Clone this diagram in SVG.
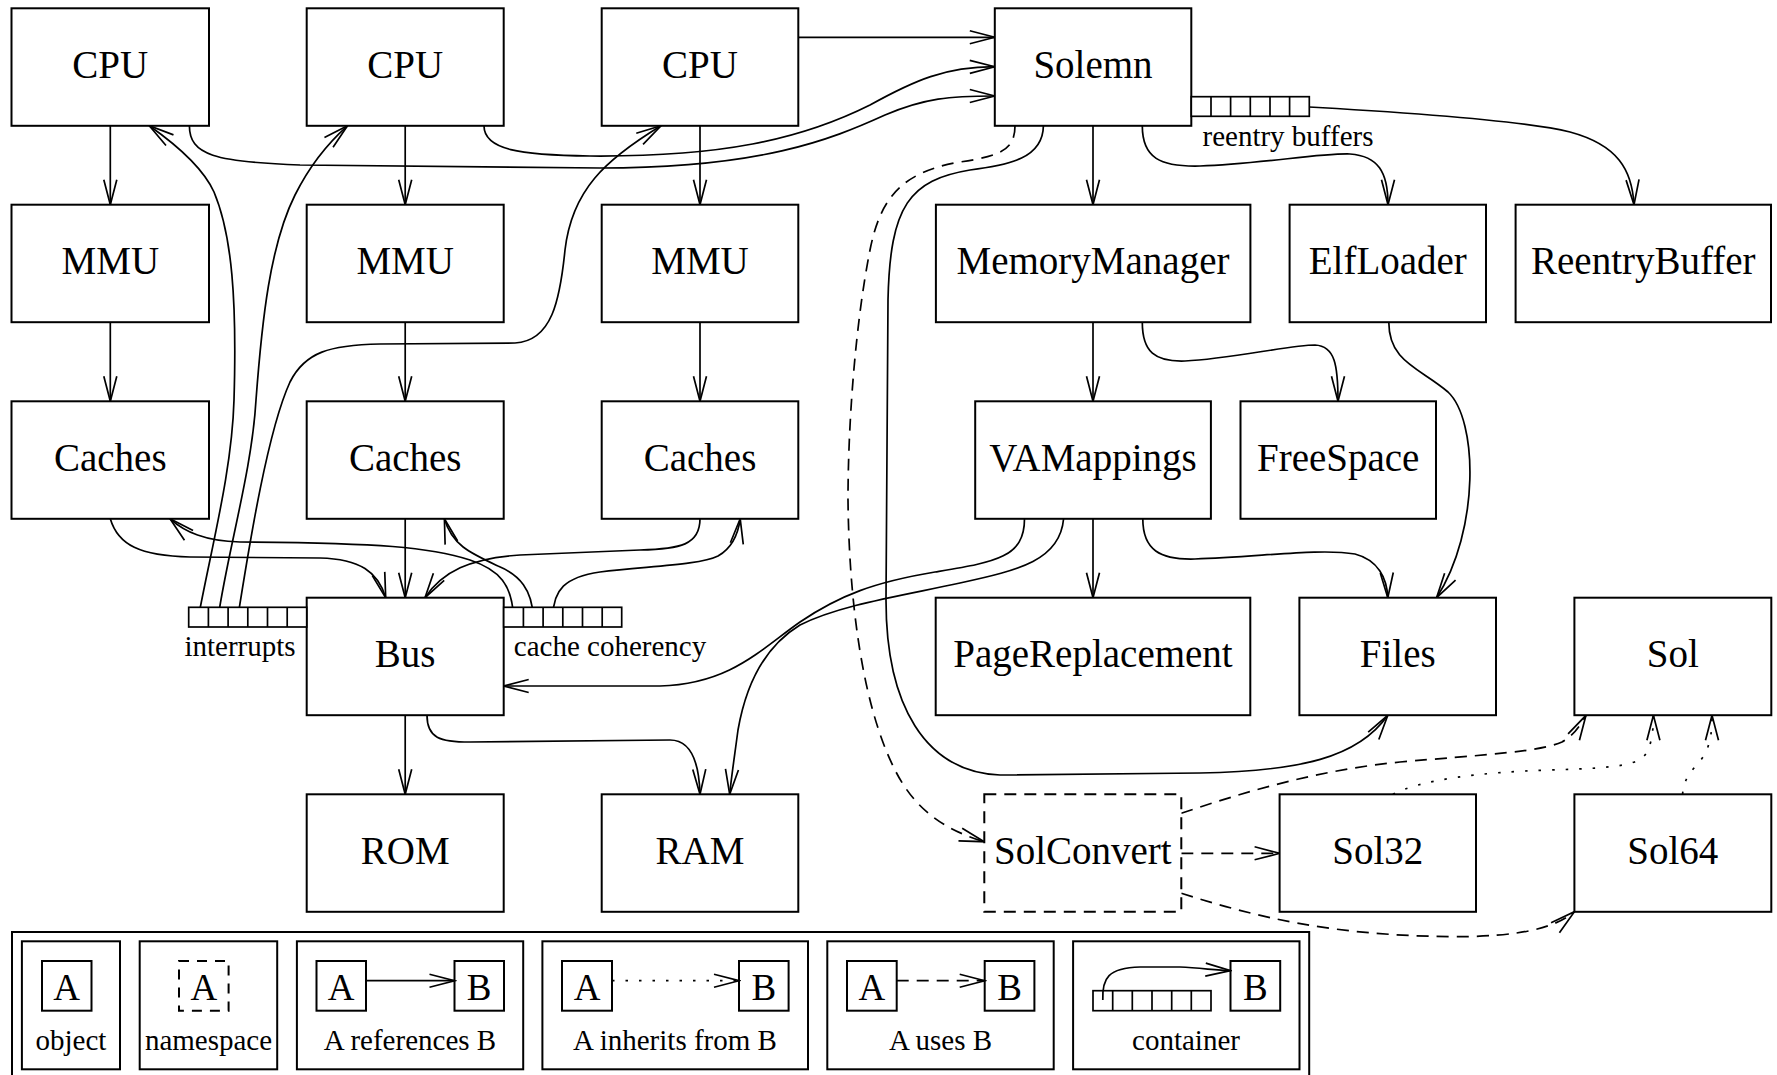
<svg xmlns="http://www.w3.org/2000/svg" width="1777" height="1075" viewBox="0 0 1777 1075">
<style>
.box{fill:#fff;stroke:#000;stroke-width:2}
.dbox{fill:#fff;stroke:#000;stroke-width:2;stroke-dasharray:12 8}
.lbl{font-family:"Liberation Serif","Times New Roman",serif;font-size:39px;text-anchor:middle;fill:#000}
.sm{font-family:"Liberation Serif","Times New Roman",serif;font-size:29px;text-anchor:middle;fill:#000}
.lg{font-family:"Liberation Serif","Times New Roman",serif;font-size:37px;text-anchor:middle;fill:#000}
.c{fill:none;stroke:#000;stroke-width:1.7;marker-end:url(#ah)}
.dash{stroke-dasharray:12 8}
.dot{stroke-dasharray:2.5 11}
.buf{fill:#fff;stroke:#000;stroke-width:1.7}
</style>
<defs>
<marker id="ah" viewBox="-27 -9 29 18" refX="0" refY="0" markerWidth="29" markerHeight="18" markerUnits="userSpaceOnUse" orient="auto">
<path d="M-25,-6.5 L0,0 L-25,6.5" fill="none" stroke="#000" stroke-width="1.7" stroke-dasharray="none"/>
</marker>
</defs>
<rect width="1777" height="1075" fill="#fff"/>

<g id="connectors">
<path class="c" d="M110.3,125.8 L110.3,204.7"/>
<path class="c" d="M110.3,322.2 L110.3,401.3"/>
<path class="c" d="M405.2,125.8 L405.2,204.7"/>
<path class="c" d="M405.2,322.2 L405.2,401.3"/>
<path class="c" d="M700,125.8 L700,204.7"/>
<path class="c" d="M700,322.2 L700,401.3"/>
<path class="c" d="M798.3,37.3 L994.8,37.3"/>
<path class="c" d="M484,125.8 C484,150 520,155 590,156 C720,157 800,140 870,105 C915,80 945,67 994.8,66.7"/>
<path class="c" d="M189.4,125.8 C189.4,155 215,162 300,165 L600,168 C760,168 830,140 885,115 C925,98 950,96 994.8,96"/>
<path class="c" d="M198.5,616.7 C212,545 232,470 234,400 C237,300 232,235 214,192 C203,168 178,146 149.3,125.8"/>
<path class="c" d="M218.2,616.7 C228,550 252,470 256,400 C262,320 270,245 295,195 C310,165 328,143 347.5,125.8"/>
<path class="c" d="M237.9,616.7 C250,540 268,430 290,382 C305,352 330,345 380,344 L515,343 C552,341 560,300 565,250 C572,190 605,160 661,125.8"/>
<path class="c" d="M110.3,518.8 C118,545 140,556 190,557 L320,558 C360,559 378,572 385.7,597.7"/>
<path class="c" d="M405.2,518.8 L405.2,597.7"/>
<path class="c" d="M700,518.8 C700,545 680,549 640,550 L520,555 C470,558 442,572 425,597.7"/>
<path class="c" d="M513.5,616.7 C512,585 500,570 470,560 C430,547 380,543 240,542 C205,541 185,532 170,518.8"/>
<path class="c" d="M533.2,616.7 C532,590 520,575 498,566 C470,553 452,545 444.4,518.8"/>
<path class="c" d="M552.9,616.7 C553,590 565,577 600,572 C650,566 700,565 718,556 C732,548 738,535 740.2,518.8"/>
<path class="c" d="M405.2,715.2 L405.2,794.3"/>
<path class="c" d="M427,715.2 C427,738 440,742 470,742 L670,740 C690,740 699,760 700,794.3"/>
<path class="c" d="M1093,125.8 L1093,204.7"/>
<path class="c" d="M1142.3,125.8 C1142.3,158 1160,167 1200,166 C1260,164 1320,153 1350,154 C1378,156 1388,172 1388,204.7"/>
<path class="c" d="M1299.5,106.5 C1400,112 1520,120 1570,132 C1618,145 1632,170 1634,204.7"/>
<path class="c" d="M1093,322.2 L1093,401.3"/>
<path class="c" d="M1142.3,322.2 C1142.3,352 1155,362 1185,361 C1230,359 1290,345 1315,345 C1335,346 1338,365 1338,401.3"/>
<path class="c" d="M1388.8,322.2 C1388.8,362 1420,368 1448,392 C1478,420 1480,530 1436.6,597.7"/>
<path class="c" d="M1093,518.8 L1093,597.7"/>
<path class="c" d="M1142.8,518.8 C1142.8,550 1160,560 1195,559 C1260,557 1320,548 1355,554 C1378,560 1387,578 1387.8,597.7"/>
<path class="c" d="M1024.5,518.8 C1024.5,558 995,562 935,572 C875,582 840,595 800,622 C760,650 730,684 660,686 L503.7,686"/>
<path class="c" d="M1063.6,518.8 C1060,560 1020,570 960,583 C900,596 840,605 800,625 C762,648 745,690 738,730 C734,760 731,780 729.7,794.3"/>
<path class="c" d="M1043.4,125.8 C1043,158 1010,165 970,170 C910,180 890,205 888,300 L886,600 C886,705 925,772 1000,775 L1200,773 C1300,771 1358,758 1387.8,715.3"/>
<path class="c dash" d="M1015,125.8 C1015,150 1000,156 960,162 C900,172 880,200 870,250 C856,320 848,420 848,500 C849,600 862,705 895,770 C915,810 945,830 984.3,841.7"/>
<path class="c dash" d="M1181.3,853.3 L1279.6,853.3"/>
<path class="c dash" d="M1181.3,813.3 C1250,790 1320,770 1400,762 C1480,755 1540,752 1562,742 C1573,736 1580,726 1586,715.3"/>
<path class="c dash" d="M1181.3,893.3 C1260,918 1330,935 1450,936.7 C1520,937 1555,928 1574.4,911.7"/>
<path class="c dot" d="M1392.9,794.3 C1420,780 1480,772 1550,770 C1620,768 1640,765 1647,752 C1652,742 1653.4,730 1653.4,715.3"/>
<path class="c dot" d="M1682.6,794.3 C1684,772 1700,765 1706,752 C1711,740 1712,730 1712,715.3"/>
</g>

<g id="cpu1"><rect class="box" x="11.5" y="8.3" width="197.5" height="117.5"/><text class="lbl" x="110.3" y="77.6">CPU</text></g>
<g id="cpu2"><rect class="box" x="306.7" y="8.3" width="197" height="117.5"/><text class="lbl" x="405.2" y="77.6">CPU</text></g>
<g id="cpu3"><rect class="box" x="601.7" y="8.3" width="196.6" height="117.5"/><text class="lbl" x="700" y="77.6">CPU</text></g>
<g id="solemn"><rect class="box" x="994.8" y="8.3" width="196.5" height="117.5"/><text class="lbl" x="1093" y="77.6">Solemn</text></g>
<g id="reentry-buffers">
<rect class="buf" x="1191.3" y="96.7" width="118" height="19.6"/>
<path class="buf" d="M1211,96.7 V116.3 M1230.6,96.7 V116.3 M1250.3,96.7 V116.3 M1270,96.7 V116.3 M1289.6,96.7 V116.3"/>
<text class="sm" x="1288" y="145.7">reentry buffers</text>
</g>

<g id="mmu1"><rect class="box" x="11.5" y="204.7" width="197.5" height="117.5"/><text class="lbl" x="110.3" y="274">MMU</text></g>
<g id="mmu2"><rect class="box" x="306.7" y="204.7" width="197" height="117.5"/><text class="lbl" x="405.2" y="274">MMU</text></g>
<g id="mmu3"><rect class="box" x="601.7" y="204.7" width="196.6" height="117.5"/><text class="lbl" x="700" y="274">MMU</text></g>
<g id="memorymanager"><rect class="box" x="935.9" y="204.7" width="314.5" height="117.5"/><text class="lbl" x="1093" y="274">MemoryManager</text></g>
<g id="elfloader"><rect class="box" x="1289.6" y="204.7" width="196.4" height="117.5"/><text class="lbl" x="1387.8" y="274">ElfLoader</text></g>
<g id="reentrybuffer"><rect class="box" x="1515.6" y="204.7" width="255.4" height="117.5"/><text class="lbl" x="1643.3" y="274">ReentryBuffer</text></g>

<g id="caches1"><rect class="box" x="11.5" y="401.3" width="197.5" height="117.5"/><text class="lbl" x="110.3" y="470.6">Caches</text></g>
<g id="caches2"><rect class="box" x="306.7" y="401.3" width="197" height="117.5"/><text class="lbl" x="405.2" y="470.6">Caches</text></g>
<g id="caches3"><rect class="box" x="601.7" y="401.3" width="196.6" height="117.5"/><text class="lbl" x="700" y="470.6">Caches</text></g>
<g id="vamappings"><rect class="box" x="975.2" y="401.3" width="235.7" height="117.5"/><text class="lbl" x="1093" y="470.6">VAMappings</text></g>
<g id="freespace"><rect class="box" x="1240.5" y="401.3" width="195.5" height="117.5"/><text class="lbl" x="1338.2" y="470.6">FreeSpace</text></g>

<g id="bus"><rect class="box" x="306.7" y="597.7" width="197" height="117.5"/><text class="lbl" x="405.2" y="667">Bus</text></g>
<g id="interrupts">
<rect class="buf" x="188.7" y="607.3" width="118" height="19.7"/>
<path class="buf" d="M208.4,607.3 V627 M228.1,607.3 V627 M247.8,607.3 V627 M267.5,607.3 V627 M287.2,607.3 V627"/>
<text class="sm" x="240" y="656">interrupts</text>
</g>
<g id="cache-coherency">
<rect class="buf" x="503.7" y="607.3" width="118" height="19.7"/>
<path class="buf" d="M523.4,607.3 V627 M543.1,607.3 V627 M562.8,607.3 V627 M582.5,607.3 V627 M602.2,607.3 V627"/>
<text class="sm" x="610" y="656">cache coherency</text>
</g>
<g id="pagereplacement"><rect class="box" x="935.7" y="597.7" width="314.6" height="117.5"/><text class="lbl" x="1093" y="667">PageReplacement</text></g>
<g id="files"><rect class="box" x="1299.4" y="597.7" width="196.6" height="117.5"/><text class="lbl" x="1397.7" y="667">Files</text></g>
<g id="sol"><rect class="box" x="1574.4" y="597.7" width="196.9" height="117.5"/><text class="lbl" x="1672.8" y="667">Sol</text></g>

<g id="rom"><rect class="box" x="306.7" y="794.3" width="197" height="117.5"/><text class="lbl" x="405.2" y="863.6">ROM</text></g>
<g id="ram"><rect class="box" x="601.7" y="794.3" width="196.6" height="117.5"/><text class="lbl" x="700" y="863.6">RAM</text></g>
<g id="solconvert"><rect class="dbox" x="984.3" y="794.3" width="197" height="117.5"/><text class="lbl" x="1082.8" y="863.6">SolConvert</text></g>
<g id="sol32"><rect class="box" x="1279.6" y="794.3" width="196.4" height="117.5"/><text class="lbl" x="1377.8" y="863.6">Sol32</text></g>
<g id="sol64"><rect class="box" x="1574.4" y="794.3" width="196.9" height="117.5"/><text class="lbl" x="1672.8" y="863.6">Sol64</text></g>

<g id="legend">
<rect class="box" x="12" y="932" width="1297.2" height="170"/>
<rect class="box" x="21.9" y="941.3" width="98.1" height="128"/>
<rect class="box" x="42" y="961" width="49.5" height="49.7"/>
<text class="lg" x="66.7" y="1000">A</text>
<text class="sm" x="71" y="1050">object</text>

<rect class="box" x="139.7" y="941.3" width="137.5" height="128"/>
<rect class="dbox" x="179" y="961" width="49.6" height="49.7" style="stroke-dasharray:10 8"/>
<text class="lg" x="203.8" y="1000">A</text>
<text class="sm" x="208.5" y="1050">namespace</text>

<rect class="box" x="296.9" y="941.3" width="226.3" height="128"/>
<rect class="box" x="316.5" y="961" width="49.5" height="49.7"/>
<text class="lg" x="341.2" y="1000">A</text>
<rect class="box" x="454.5" y="961" width="49.5" height="49.7"/>
<text class="lg" x="479.2" y="1000">B</text>
<path class="c" d="M366,980.7 L454.5,980.7"/>
<text class="sm" x="410" y="1050">A references B</text>

<rect class="box" x="542.4" y="941.3" width="265.6" height="128"/>
<rect class="box" x="562" y="961" width="50" height="49.7"/>
<text class="lg" x="587" y="1000">A</text>
<rect class="box" x="739" y="961" width="49.6" height="49.7"/>
<text class="lg" x="763.8" y="1000">B</text>
<path class="c dot" d="M612,980.7 L739,980.7"/>
<text class="sm" x="675" y="1050">A inherits from B</text>

<rect class="box" x="827.3" y="941.3" width="226.4" height="128"/>
<rect class="box" x="847" y="961" width="49.7" height="49.7"/>
<text class="lg" x="871.8" y="1000">A</text>
<rect class="box" x="984.7" y="961" width="49.7" height="49.7"/>
<text class="lg" x="1009.5" y="1000">B</text>
<path class="c dash" d="M896.7,980.7 L984.7,980.7"/>
<text class="sm" x="940.5" y="1050">A uses B</text>

<rect class="box" x="1073.1" y="941.3" width="226.4" height="128"/>
<rect class="buf" x="1093" y="990.7" width="118" height="20"/>
<path class="buf" d="M1112.7,990.7 V1010.7 M1132.3,990.7 V1010.7 M1152,990.7 V1010.7 M1171.7,990.7 V1010.7 M1191.3,990.7 V1010.7"/>
<rect class="box" x="1230.5" y="961" width="49.7" height="49.7"/>
<text class="lg" x="1255.3" y="1000">B</text>
<path class="c" d="M1102.8,1000 C1102,978 1108,968 1140,967 L1180,967 C1200,968 1215,970 1230.5,970.7"/>
<text class="sm" x="1186" y="1050">container</text>
</g>
</svg>
